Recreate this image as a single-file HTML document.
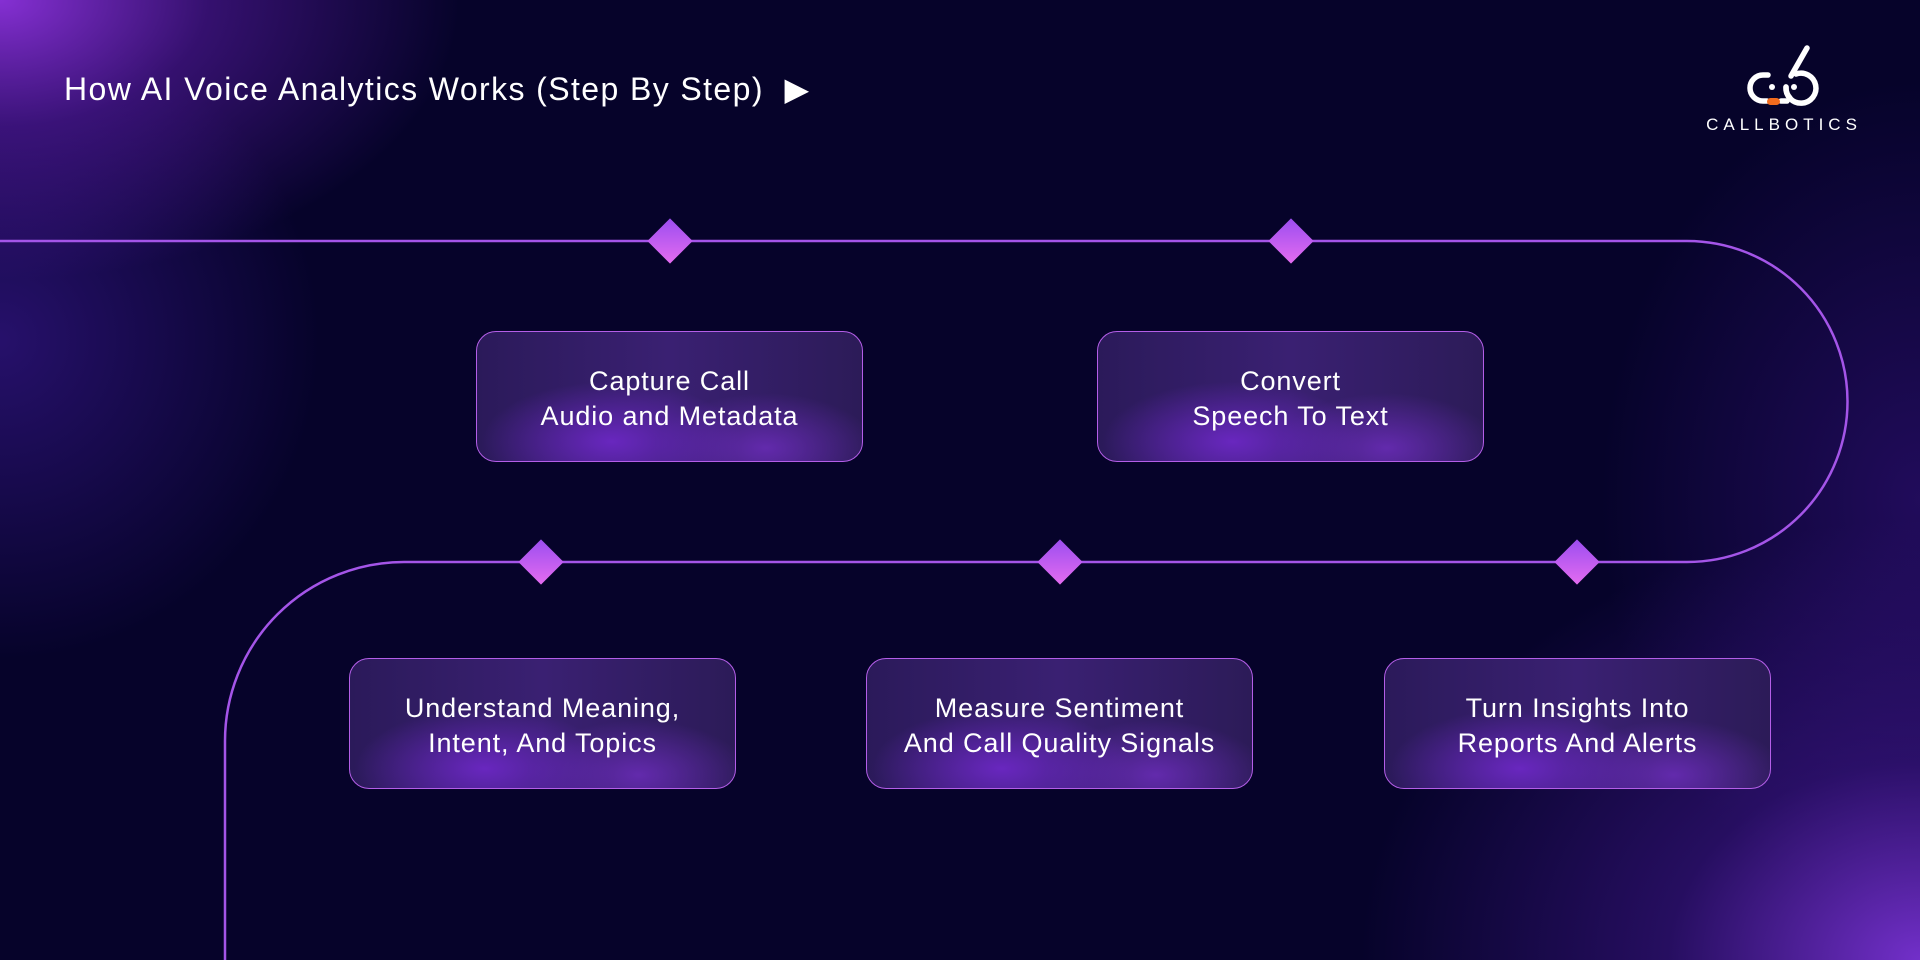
<!DOCTYPE html>
<html><head><meta charset="utf-8"><style>
html,body{margin:0;padding:0}
body{width:1920px;height:960px;overflow:hidden;position:relative;font-family:"Liberation Sans",sans-serif;
background:
radial-gradient(ellipse 460px 280px at 0px 0px, rgba(140,50,220,0.95), rgba(100,30,180,0.5) 45%, rgba(0,0,0,0) 100%),
radial-gradient(ellipse 320px 320px at 0px 340px, rgba(60,25,150,0.6), rgba(0,0,0,0) 100%),
radial-gradient(ellipse 560px 440px at 1920px 960px, rgba(120,50,210,0.95), rgba(70,25,150,0.5) 45%, rgba(0,0,0,0) 100%),
radial-gradient(ellipse 320px 420px at 1920px 500px, rgba(60,20,140,0.5), rgba(0,0,0,0) 100%),
#06032a;}
.t{position:absolute;left:64px;top:70px;color:#fff;font-size:32px;letter-spacing:1.4px;white-space:nowrap}
.box{position:absolute;width:387px;height:131px;border:1.5px solid #b45ee8;border-radius:20px;box-sizing:border-box;
background:radial-gradient(ellipse 130px 60px at 35% 85%, rgba(110,40,200,0.9), rgba(0,0,0,0)),radial-gradient(ellipse 110px 55px at 75% 90%, rgba(110,45,190,0.8), rgba(0,0,0,0)),linear-gradient(90deg,#2b1a5a,#3a2072 50%,#2c1b58);
color:#fff;font-size:27px;letter-spacing:0.9px;line-height:35px;text-align:center;display:flex;align-items:center;justify-content:center;padding-top:4px}
</style></head><body>
<svg width="1920" height="960" style="position:absolute;left:0;top:0">
<defs><linearGradient id="d" x1="0" y1="0" x2="1" y2="1"><stop offset="0" stop-color="#9b4df0"/><stop offset="1" stop-color="#e46cf0"/></linearGradient></defs>
<path d="M0 241 H1687 A160.5 160.5 0 0 1 1687 562 H404 A179 179 0 0 0 225 741 V960" fill="none" stroke="#a455e8" stroke-width="2.5"/>
<g fill="url(#d)">
<rect x="654" y="225" width="32" height="32" transform="rotate(45 670 241)"/>
<rect x="1275" y="225" width="32" height="32" transform="rotate(45 1291 241)"/>
<rect x="525" y="546" width="32" height="32" transform="rotate(45 541 562)"/>
<rect x="1044" y="546" width="32" height="32" transform="rotate(45 1060 562)"/>
<rect x="1561" y="546" width="32" height="32" transform="rotate(45 1577 562)"/>
</g>
<g fill="none" stroke="#fff" stroke-width="5.5" stroke-linecap="round" stroke-linejoin="round">
<path d="M1768 75 H1763 A13 13 0 0 0 1763 101 H1767"/>
<path d="M1807 48 L1791 76 M1786 87 A15 15 0 1 0 1796 74"/>
<path d="M1786 87 A15 15 0 0 0 1790 98"/>
</g>
<path d="M1781 101 H1787" stroke="#fff" stroke-width="5.5" stroke-linecap="round"/>
<circle cx="1772" cy="87" r="3" fill="#fff"/><circle cx="1794" cy="87" r="3" fill="#fff"/>
<rect x="1767" y="98" width="13" height="7" rx="3.5" fill="#f26b1d"/>
<text x="1784" y="130" fill="#fff" font-size="17" letter-spacing="5" text-anchor="middle" font-family="Liberation Sans">CALLBOTICS</text>
</svg>
<div class="t">How AI Voice Analytics Works (Step By Step)&nbsp; ▶</div>
<div class="box" style="left:476px;top:331px">Capture Call<br>Audio and Metadata</div>
<div class="box" style="left:1097px;top:331px">Convert<br>Speech To Text</div>
<div class="box" style="left:349px;top:658px">Understand Meaning,<br>Intent, And Topics</div>
<div class="box" style="left:866px;top:658px">Measure Sentiment<br>And Call Quality Signals</div>
<div class="box" style="left:1384px;top:658px">Turn Insights Into<br>Reports And Alerts</div>
</body></html>
